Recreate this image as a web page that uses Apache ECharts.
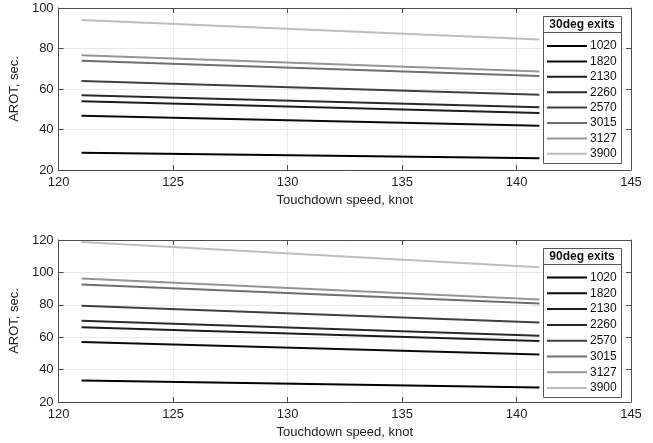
<!DOCTYPE html>
<html>
<head>
<meta charset="utf-8">
<script src="https://cdn.jsdelivr.net/npm/echarts@6/dist/echarts.min.js"></script>
<style>
html,body{margin:0;padding:0;background:#fff;}
#main{width:653px;height:443px;}
</style>
</head>
<body>
<div id="main"></div>
<script>
// runway lengths (legend) and speed endpoints
var exitNames=["1020","1820","2130","2260","2570","3015","3127","3900"];
var speeds=[121,141];
// AROT values at 121 and 141 knots
var arot30=[
  [28.5,25.8],
  [46.8,41.8],
  [53.9,48.2],
  [56.9,51.0],
  [64.0,57.2],
  [74.0,66.4],
  [76.7,68.7],
  [94.1,84.5]
];
var arot90=[
  [33.2,28.9],
  [57.1,49.3],
  [66.2,57.7],
  [70.1,60.9],
  [79.4,69.0],
  [92.6,80.8],
  [96.2,83.3],
  [118.8,103.2]
];
var lineColors=["#000","#0a0a0a","#1c1c1c","#2a2a2a","#3f3f3f","#6e6e6e","#959595","#bdbdbd"];
var xTicks={min:120,max:145,interval:5};
var yTicks30={min:20,max:100,interval:20};
var yTicks90={min:20,max:120,interval:20};

var myChart=echarts.init(document.getElementById('main'));
var font="'Liberation Sans', Arial, sans-serif";
var axisCol="#4d4d4d";

var makeX=function(gi,pos){
  var main=pos=="bottom";
  return {
    type:'value',gridIndex:gi,position:pos,
    min:xTicks.min,max:xTicks.max,interval:xTicks.interval,
    name:main?'Touchdown speed, knot':'',nameLocation:'middle',nameGap:24,
    nameTextStyle:{fontFamily:font,fontSize:13,color:'#222'},
    axisLine:{show:true,lineStyle:{color:axisCol,width:1}},
    axisTick:{show:true,inside:true,length:5,lineStyle:{color:axisCol}},
    axisLabel:{show:main,fontFamily:font,fontSize:13,color:'#222',margin:6},
    splitLine:{show:main,lineStyle:{color:'#e8e8e8',width:1}}
  };
};
var makeY=function(gi,pos,t){
  var main=pos=="left";
  return {
    type:'value',gridIndex:gi,position:pos,
    min:t.min,max:t.max,interval:t.interval,
    name:main?'AROT, sec.':'',nameLocation:'middle',nameGap:28,
    nameTextStyle:{fontFamily:font,fontSize:13,color:'#222'},
    axisLine:{show:true,lineStyle:{color:axisCol,width:1}},
    axisTick:{show:true,inside:true,length:5,lineStyle:{color:axisCol}},
    axisLabel:{show:main,fontFamily:font,fontSize:13,color:'#222',margin:5},
    splitLine:{show:main,lineStyle:{color:'#e8e8e8',width:1}}
  };
};

var series=[];
var addSeries=function(vals,xi,yi){
  for(var i=0;i<exitNames.length;i++){
    var d=[];
    for(var j=0;j<speeds.length;j++){d.push([speeds[j],vals[i][j]]);}
    series.push({
      name:exitNames[i],type:'line',xAxisIndex:xi,yAxisIndex:yi,
      symbol:'none',silent:true,
      lineStyle:{color:lineColors[i],width:2},
      itemStyle:{color:lineColors[i]},
      data:d
    });
  }
};
addSeries(arot30,0,0);
addSeries(arot90,2,2);

var legendBase=function(top,gap){
  return {
    orient:'vertical',left:547,top:top,z:20,padding:0,
    itemWidth:40,itemHeight:14,itemGap:gap,
    selectedMode:false,
    icon:'path://M0,6 L40,6 L40,8 L0,8 Z',
    textStyle:{fontFamily:font,fontSize:12,color:'#111',lineHeight:14,padding:[0,0,0,-2]},
    data:exitNames
  };
};
var boxes=function(top,h,title){
  return [
    {type:'rect',shape:{x:543.5,y:top+0.5,width:78,height:h},style:{fill:'#fff',stroke:'#555',lineWidth:1},z:5},
    {type:'line',shape:{x1:543.5,y1:top+16.5,x2:621.5,y2:top+16.5},style:{stroke:'#555',lineWidth:1},z:6},
    {type:'text',x:582,y:top+9,style:{text:title,fontFamily:font,fontSize:12,fontWeight:'bold',fill:'#111',align:'center',verticalAlign:'middle'},z:6}
  ];
};

options={
  animation:false,
  grid:[
    {left:54,top:8,width:577,height:162},
    {left:54,top:240,width:577,height:162}
  ],
  xAxis:[makeX(0,'bottom'),makeX(0,'top'),makeX(1,'bottom'),makeX(1,'top')],
  yAxis:[makeY(0,'left',yTicks30),makeY(0,'right',yTicks30),makeY(1,'left',yTicks90),makeY(1,'right',yTicks90)],
  legend:[legendBase(39,1.4),legendBase(270.5,1.8)],
  graphic:boxes(16,147,'30deg exits').concat(boxes(248,149,'90deg exits')),
  series:series
};
myChart.setOption(options);
</script>
</body>
</html>
